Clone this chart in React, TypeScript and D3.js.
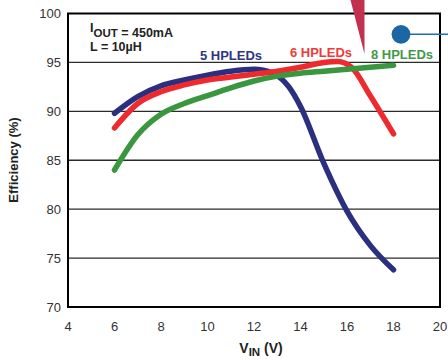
import React from 'react'
import * as d3 from 'd3'

// efficiency (%) vs input voltage (V)
const vin5 = [6, 7, 8, 9, 10, 11, 12, 12.8, 13.5, 14, 15, 16, 17, 18]
const eff5 = [89.8, 91.5, 92.6, 93.2, 93.7, 94.1, 94.3, 93.9, 92.5, 90.5, 84.7, 79.8, 76.3, 73.8]
const vin6 = [6, 7, 8, 9, 10, 11, 12, 13, 14, 15, 15.6, 16.2, 17, 18]
const eff6 = [88.3, 90.8, 92.0, 92.7, 93.2, 93.5, 93.8, 94.1, 94.5, 95.0, 95.1, 94.5, 91.6, 87.7]
const vin8 = [6, 7, 8, 9, 10, 11, 12, 13, 14, 15, 16, 17, 18]
const eff8 = [84.0, 87.6, 89.7, 90.8, 91.6, 92.4, 93.1, 93.6, 93.9, 94.1, 94.3, 94.5, 94.7]

const xTicks = [4, 6, 8, 10, 12, 14, 16, 18, 20]
const yTicks = [70, 75, 80, 85, 90, 95, 100]

const font = '"Liberation Sans", Arial, sans-serif'

const App = () => {
  const x = d3.scaleLinear().domain([4, 20]).range([68, 440])
  const y = d3.scaleLinear().domain([70, 100]).range([307, 13.5])

  const line = d3
    .line<[number, number]>()
    .x((d) => x(d[0]))
    .y((d) => y(d[1]))
    .curve(d3.curveMonotoneX)

  const series = [
    {xs: vin5, ys: eff5, color: '#2a2f7f'},
    {xs: vin6, ys: eff6, color: '#ee2a2e'},
    {xs: vin8, ys: eff8, color: '#3a973f'},
  ]

  return (
    <svg
      width={448}
      height={360}
      style={{position: 'fixed', left: 0, top: 0, background: '#fff'}}
      fontFamily={font}
    >
      {/* grid */}
      {yTicks.slice(1, -1).map((t) => (
        <line key={t} x1={x(4)} x2={x(20)} y1={y(t)} y2={y(t)} stroke="#2b2b2b" strokeWidth={1.4} />
      ))}

      {/* curves */}
      {series.map((s, i) => (
        <path
          key={i}
          d={line(s.xs.map((v, j) => [v, s.ys[j]]) as [number, number][]) || ''}
          fill="none"
          stroke={s.color}
          strokeWidth={5.5}
          strokeLinecap="round"
          strokeLinejoin="round"
        />
      ))}

      {/* frame */}
      <rect x={x(4)} y={y(100)} width={x(20) - x(4)} height={y(70) - y(100)} fill="none" stroke="#000" strokeWidth={2} />

      {/* tick labels */}
      {yTicks.map((t) => (
        <text key={t} x={61} y={y(t) + 4.5} textAnchor="end" fontSize={13} fill="#333">
          {t}
        </text>
      ))}
      {xTicks.map((t) => (
        <text key={t} x={x(t)} y={331} textAnchor="middle" fontSize={13} fill="#333">
          {t}
        </text>
      ))}

      {/* axis titles */}
      <text transform="translate(18,160) rotate(-90)" textAnchor="middle" fontSize={13} fontWeight="bold" fill="#222">
        Efficiency (%)
      </text>
      <text x={261} y={353} textAnchor="middle" fontSize={14} fontWeight="bold" fill="#222">
        V<tspan fontSize={11.5} dy={3}>IN</tspan>
        <tspan dy={-3}> (V)</tspan>
      </text>

      {/* conditions */}
      <text x={90} y={36.5} fontSize={12.5} fontWeight="bold" fill="#222">
        <tspan dy={-5}>I</tspan>
        <tspan dy={5} fontSize={11.5}>OUT</tspan>
        <tspan> = 450mA</tspan>
      </text>
      <text x={90} y={50.5} fontSize={12.5} fontWeight="bold" fill="#222">
        L = 10µH
      </text>

      {/* series labels */}
      <text x={231} y={60} textAnchor="middle" fontSize={13} fontWeight="bold" fill="#2e3583">
        5 HPLEDs
      </text>
      <text x={321} y={57} textAnchor="middle" fontSize={13} fontWeight="bold" fill="#ee3a3a">
        6 HPLEDs
      </text>
      <text x={402} y={59} textAnchor="middle" fontSize={13} fontWeight="bold" fill="#43994a">
        8 HPLEDs
      </text>

      {/* annotation marks */}
      <path d="M350.5,0 L364.5,0 L364.5,54 Z" fill="#c2314f" />
      <line x1={401} x2={448} y1={34.3} y2={34.3} stroke="#1f6fae" strokeWidth={1.6} />
      <circle cx={401} cy={34.3} r={9.4} fill="#1b67a3" />
    </svg>
  )
}

export default App
